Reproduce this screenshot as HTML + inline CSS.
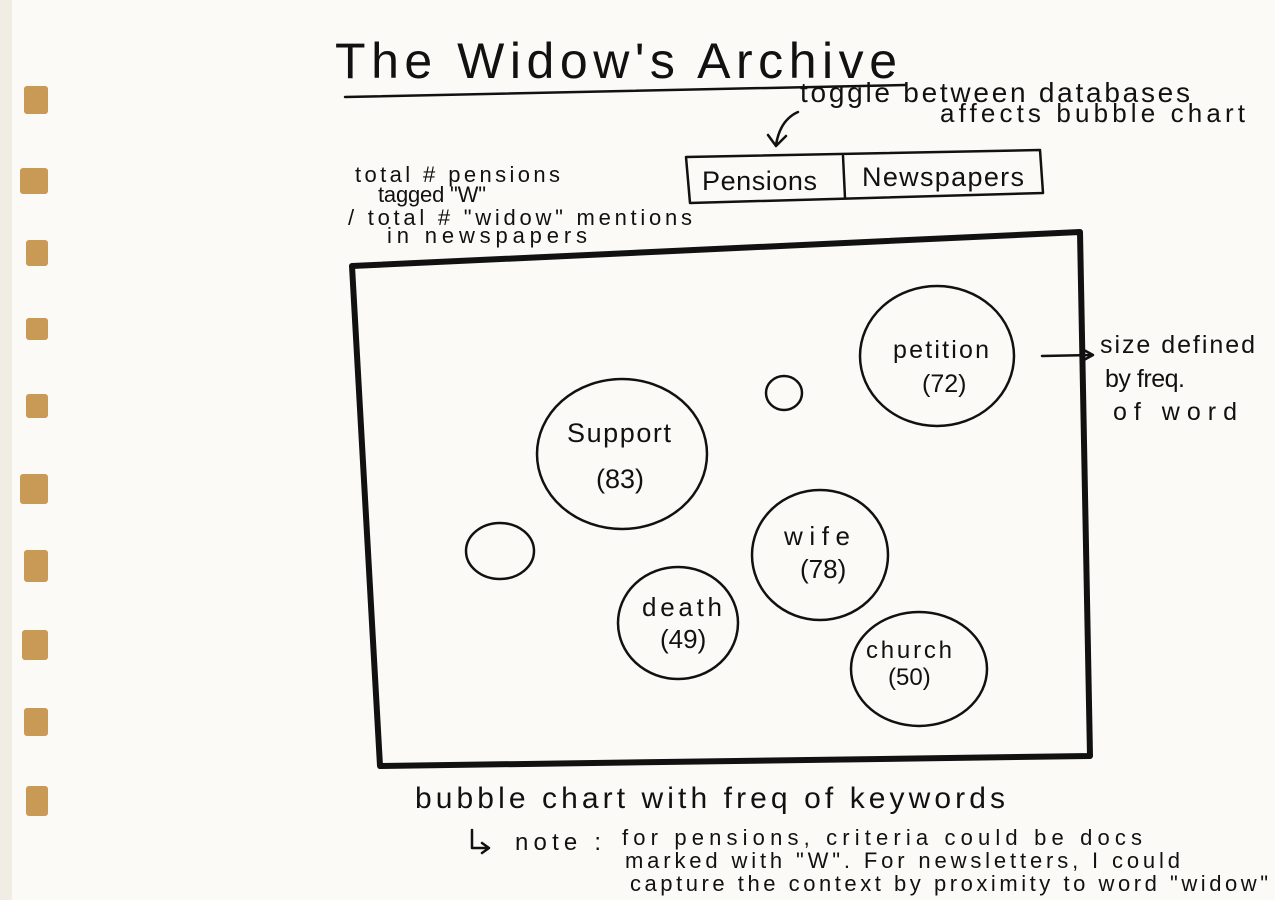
<!DOCTYPE html>
<html><head><meta charset="utf-8"><style>
html,body{margin:0;padding:0;background:#fbfaf6;}
svg{display:block}
text{font-family:"Liberation Sans",sans-serif;fill:#111;}
</style></head><body>
<svg width="1275" height="900" viewBox="0 0 1275 900" xmlns="http://www.w3.org/2000/svg">
<rect width="1275" height="900" fill="#fbfaf6"/>
<rect x="0" y="0" width="12" height="900" fill="#f1ede4"/>
<g fill="#c99a55">
<rect x="24" y="86" width="24" height="28" rx="3"/>
<rect x="20" y="168" width="28" height="26" rx="3"/>
<rect x="26" y="240" width="22" height="26" rx="3"/>
<rect x="26" y="318" width="22" height="22" rx="3"/>
<rect x="26" y="394" width="22" height="24" rx="3"/>
<rect x="20" y="474" width="28" height="30" rx="3"/>
<rect x="24" y="550" width="24" height="32" rx="3"/>
<rect x="22" y="630" width="26" height="30" rx="3"/>
<rect x="24" y="708" width="24" height="28" rx="3"/>
<rect x="26" y="786" width="22" height="30" rx="3"/>
</g>
<g stroke="#111" fill="none" stroke-linecap="round" stroke-linejoin="round">
<path d="M345 97 Q620 92 905 85" stroke-width="2.5"/>
<path d="M798 112 Q780 120 776 145 M768 135 L776 146 L786 136" stroke-width="2.5"/>
<path d="M686 157 L1040 150 L1043 193 L690 203 Z" stroke-width="2.5"/>
<path d="M843 156 L845 198" stroke-width="2.5"/>
<path d="M352 266 L1080 232 L1090 756 L380 766 Z" stroke-width="6"/>
<ellipse cx="937" cy="356" rx="77" ry="70" stroke-width="2.5"/>
<ellipse cx="784" cy="393" rx="18" ry="17" stroke-width="2.5"/>
<ellipse cx="622" cy="454" rx="85" ry="75" stroke-width="2.5"/>
<ellipse cx="500" cy="551" rx="34" ry="28" stroke-width="2.5"/>
<ellipse cx="820" cy="555" rx="68" ry="65" stroke-width="2.5"/>
<ellipse cx="678" cy="623" rx="60" ry="56" stroke-width="2.5"/>
<ellipse cx="919" cy="669" rx="68" ry="57" stroke-width="2.5"/>
<path d="M1042 356 L1092 355 M1082 349 L1093 355 L1082 361" stroke-width="2.5"/>
<path d="M472 830 L472 848 L488 848 M482 843 L489 848 L482 853" stroke-width="2.5"/>
</g>
<text x="335" y="78" font-size="50" textLength="562" lengthAdjust="spacing">The Widow's Archive</text>
<text x="800" y="102" font-size="28" textLength="390" lengthAdjust="spacing">toggle between databases</text>
<text x="940" y="122" font-size="26" textLength="305" lengthAdjust="spacing">affects bubble chart</text>
<text x="702" y="190" font-size="27" textLength="115" lengthAdjust="spacing">Pensions</text>
<text x="862" y="186" font-size="27" textLength="162" lengthAdjust="spacing">Newspapers</text>
<text x="355" y="182" font-size="22" textLength="205" lengthAdjust="spacing">total # pensions</text>
<text x="378" y="202" font-size="22" textLength="108" lengthAdjust="spacing">tagged "W"</text>
<text x="348" y="225" font-size="22" textLength="344" lengthAdjust="spacing">/ total # "widow" mentions</text>
<text x="387" y="243" font-size="22" textLength="200" lengthAdjust="spacing">in newspapers</text>
<text x="893" y="358" font-size="25" textLength="96" lengthAdjust="spacing">petition</text>
<text x="922" y="392" font-size="25">(72)</text>
<text x="567" y="442" font-size="27" textLength="104" lengthAdjust="spacing">Support</text>
<text x="596" y="488" font-size="27">(83)</text>
<text x="784" y="545" font-size="26" textLength="66" lengthAdjust="spacing">wife</text>
<text x="800" y="578" font-size="26">(78)</text>
<text x="642" y="616" font-size="26" textLength="80" lengthAdjust="spacing">death</text>
<text x="660" y="648" font-size="26">(49)</text>
<text x="866" y="658" font-size="24" textLength="86" lengthAdjust="spacing">church</text>
<text x="888" y="685" font-size="24">(50)</text>
<text x="1100" y="353" font-size="25" textLength="155" lengthAdjust="spacing">size defined</text>
<text x="1105" y="387" font-size="25" textLength="80" lengthAdjust="spacing">by freq.</text>
<text x="1113" y="420" font-size="25" textLength="124" lengthAdjust="spacing">of word</text>
<text x="415" y="808" font-size="30" textLength="590" lengthAdjust="spacing">bubble chart with freq of keywords</text>
<text x="515" y="850" font-size="24" textLength="86" lengthAdjust="spacing">note :</text>
<text x="622" y="845" font-size="22" textLength="520" lengthAdjust="spacing">for pensions, criteria could be docs</text>
<text x="625" y="868" font-size="22" textLength="555" lengthAdjust="spacing">marked with "W". For newsletters, I could</text>
<text x="630" y="891" font-size="22" textLength="638" lengthAdjust="spacing">capture the context by proximity to word "widow"</text>
</svg>
</body></html>
